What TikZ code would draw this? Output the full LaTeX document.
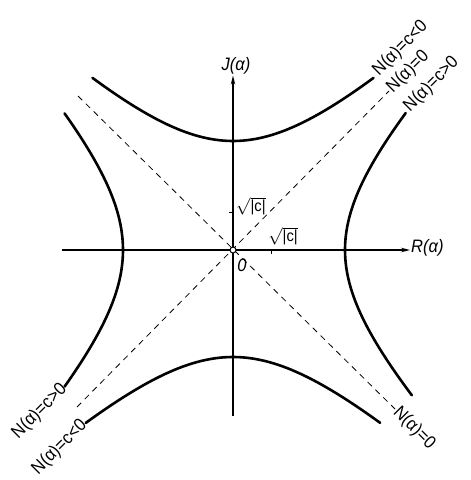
\documentclass[tikz,border=0pt]{standalone}
\usepackage{fontspec}
\usepackage{amsmath}
\setmainfont{Liberation Sans}
\newfontfamily\lab[FakeStretch=0.92]{Liberation Sans}
\usetikzlibrary{arrows.meta}
\begin{document}
\begin{tikzpicture}[x=1pt,y=-1pt,
  axis/.style={line width=1.1pt},
  curve/.style={line width=2.6pt, line cap=round},
  asym/.style={line width=0.8pt, dash pattern=on 6pt off 5pt},
  nlbl/.style={font=\lab\fontsize{18}{18}\selectfont, inner sep=1pt},
  albl/.style={font=\lab\itshape\fontsize{18}{18}\selectfont, inner sep=1pt},
  slbl/.style={font=\lab\fontsize{16}{16}\selectfont, inner sep=1pt},
  tip/.style={-{Stealth[length=9pt,width=4.5pt]}},
]
\useasboundingbox (0,0) rectangle (471,480);
% axes
\node[albl] (J) at (236,66) {J(α)};
\node[albl, anchor=west] (R) at (410,248) {R(α)};
\coordinate (xl) at (62,250);
\coordinate (yb) at (233,416);
\draw[axis,tip] (xl) -- (xl -| R.west);
\draw[axis,tip] (yb) -- (yb |- J.south);
% ticks
\draw[line width=0.8pt] (229,212) -- (233,212);
\draw[line width=0.8pt] (271,250) -- (271,254);
% labels of the asymptotes
\node[nlbl, rotate=45, anchor=west] (lNE) at (389,91) {N(α)=0};
\node[nlbl, rotate=-45, anchor=west] (lSE) at (395,409) {N(α)=0};
\coordinate (sw) at (77,407);
\coordinate (nw) at (78,96);
\draw[asym] (sw) -- (lNE.west);
\draw[asym] (nw) -- (lSE.west);
% hyperbolas
\draw[curve] plot[domain=-1.03:1.03, samples=60, variable=\t] ({233+115*sinh(\t)}, {250-109*cosh(\t)});
\draw[curve] plot[domain=-1.06:1.06, samples=60, variable=\t] ({233+116*sinh(\t)}, {250+107*cosh(\t)});
\draw[curve] plot[domain=-0.999:1.045, samples=60, variable=\t] ({233+112*cosh(\t)}, {250+116.7*sinh(\t)});
\draw[curve] plot[domain=-0.99:0.99, samples=60, variable=\t] ({233-110*cosh(\t)}, {250+117.8*sinh(\t)});
% curve labels
\node[nlbl, rotate=45, anchor=west] (lTop) at (375,74) {N(α)=c<0};
\node[nlbl, rotate=45, anchor=west] (lRight) at (406,110) {N(α)=c>0};
\node[nlbl, rotate=45, anchor=east] (lLeft) at (65,386) {N(α)=c>0};
\node[nlbl, rotate=45, anchor=east] (lBot) at (85,422) {N(α)=c<0};
% sqrt labels
\node[slbl, anchor=west] (sv) at (235,206) {$\sqrt{\text{\lab |c|}}$};
\node[slbl] (sh) at (283,236) {$\sqrt{\text{\lab |c|}}$};
% origin
\node[circle, draw, fill=white, inner sep=0pt, minimum size=6pt, line width=1pt] (O) at (233,250) {};
\node[albl] (zero) at (242,265) {0};
\end{tikzpicture}
\end{document}
